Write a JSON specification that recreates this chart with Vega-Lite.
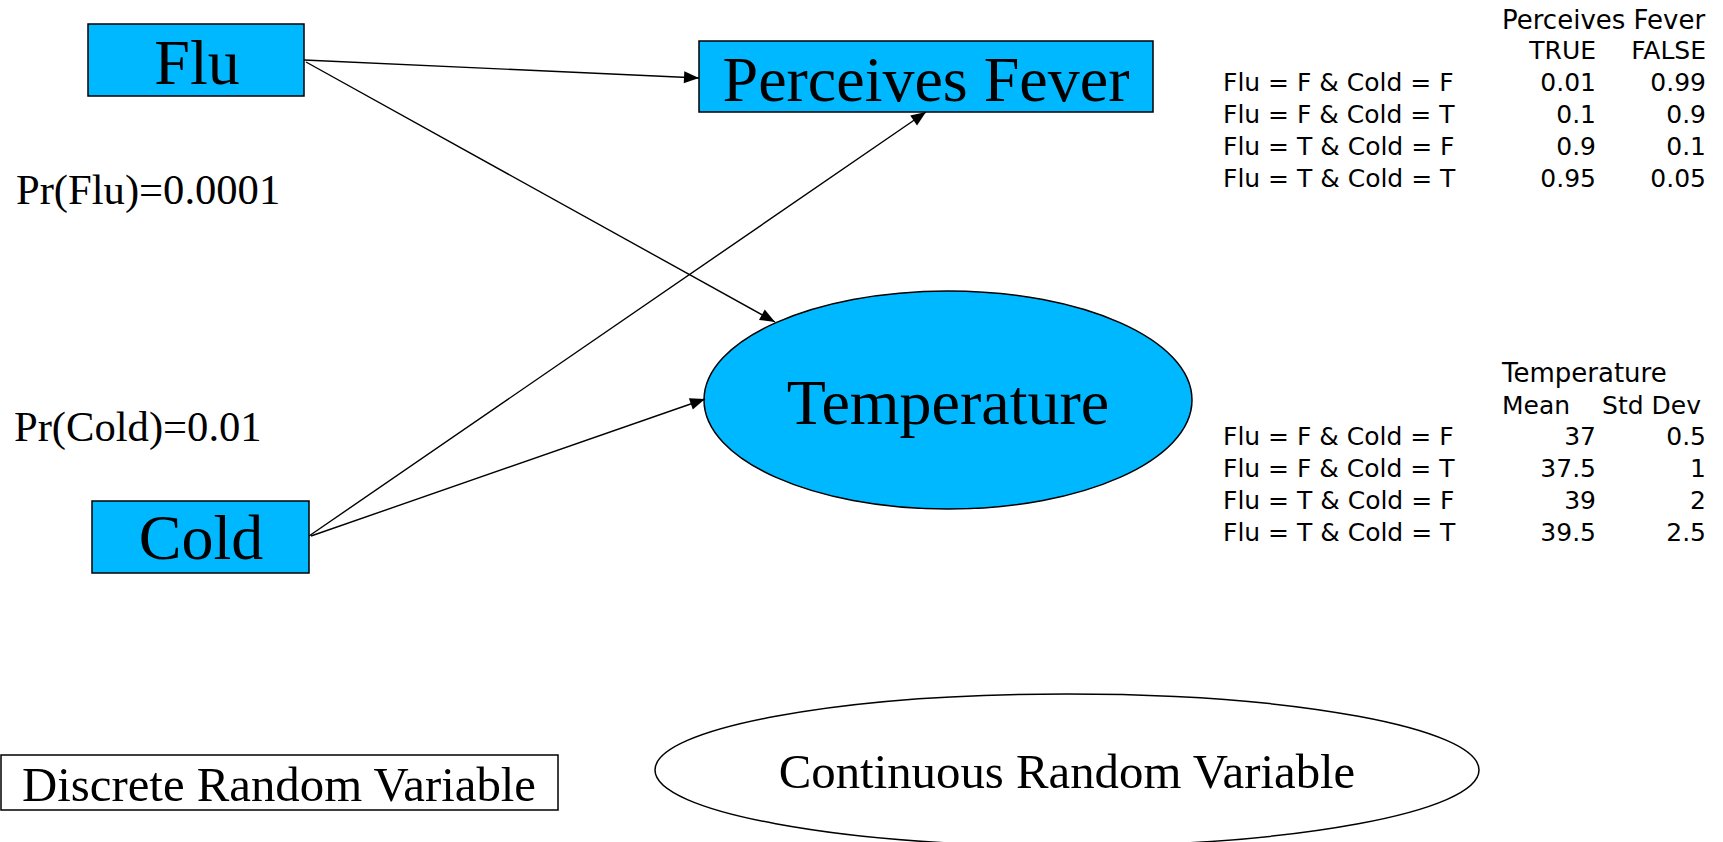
{
  "$schema": "https://vega.github.io/schema/vega-lite/v6.json",
  "width": 1723,
  "height": 842,
  "padding": 0,
  "autosize": {"type": "none"},
  "background": "white",
  "config": {"view": {"stroke": null}},
  "datasets": {
    "boxes": [
      {"name": "Flu", "x": 88, "x2": 304, "y": 24, "y2": 96, "kind": "node"},
      {"name": "Perceives Fever", "x": 699, "x2": 1153, "y": 41, "y2": 112, "kind": "node"},
      {"name": "Cold", "x": 92, "x2": 309, "y": 501, "y2": 573, "kind": "node"},
      {"name": "Discrete Random Variable", "x": 1, "x2": 558, "y": 755, "y2": 810, "kind": "legend"}
    ],
    "ellipses": [
      {"name": "Temperature", "x": 948, "y": 400},
      {"name": "Continuous Random Variable", "x": 1067, "y": 770}
    ],
    "arrows": [
      {"from": "Flu", "to": "Perceives Fever", "x": 304, "y": 60, "x2": 699, "y2": 78, "angle": 2.6},
      {"from": "Flu", "to": "Temperature", "x": 306, "y": 62, "x2": 775, "y2": 322, "angle": 29.0},
      {"from": "Cold", "to": "Perceives Fever", "x": 309, "y": 536, "x2": 926, "y2": 112, "angle": 325.5},
      {"from": "Cold", "to": "Temperature", "x": 311, "y": 536, "x2": 705, "y2": 399, "angle": 340.8}
    ],
    "labels": [
      {"text": "Flu", "x": 197, "y": 84, "kind": "node"},
      {"text": "Perceives Fever", "x": 926, "y": 101, "kind": "node"},
      {"text": "Temperature", "x": 948, "y": 424, "kind": "node"},
      {"text": "Cold", "x": 201, "y": 559, "kind": "node"},
      {"text": "Pr(Flu)=0.0001", "x": 16, "y": 204, "kind": "prior"},
      {"text": "Pr(Cold)=0.01", "x": 14, "y": 441, "kind": "prior"},
      {"text": "Discrete Random Variable", "x": 279, "y": 801, "kind": "legend"},
      {"text": "Continuous Random Variable", "x": 1067, "y": 788, "kind": "legend"}
    ],
    "headers": [
      {"text": "Perceives Fever", "x": 1502, "y": 29, "role": "title"},
      {"text": "TRUE", "x": 1596, "y": 59, "role": "column-end"},
      {"text": "FALSE", "x": 1706, "y": 59, "role": "column-end"},
      {"text": "Temperature", "x": 1502, "y": 382, "role": "title"},
      {"text": "Mean", "x": 1502, "y": 414, "role": "column-start"},
      {"text": "Std Dev", "x": 1701, "y": 414, "role": "column-end"}
    ],
    "cpt": [
      {"table": "Perceives Fever", "condition": "Flu = F & Cold = F", "c1": "0.01", "c2": "0.99", "y": 91},
      {"table": "Perceives Fever", "condition": "Flu = F & Cold = T", "c1": "0.1", "c2": "0.9", "y": 123},
      {"table": "Perceives Fever", "condition": "Flu = T & Cold = F", "c1": "0.9", "c2": "0.1", "y": 155},
      {"table": "Perceives Fever", "condition": "Flu = T & Cold = T", "c1": "0.95", "c2": "0.05", "y": 187},
      {"table": "Temperature", "condition": "Flu = F & Cold = F", "c1": "37", "c2": "0.5", "y": 445},
      {"table": "Temperature", "condition": "Flu = F & Cold = T", "c1": "37.5", "c2": "1", "y": 477},
      {"table": "Temperature", "condition": "Flu = T & Cold = F", "c1": "39", "c2": "2", "y": 509},
      {"table": "Temperature", "condition": "Flu = T & Cold = T", "c1": "39.5", "c2": "2.5", "y": 541}
    ]
  },
  "layer": [
    {
      "data": {"name": "boxes"},
      "mark": {"type": "rect", "stroke": "black", "strokeWidth": 1.5},
      "encoding": {
        "x": {"field": "x", "type": "quantitative", "scale": {"domain": [0, 1723], "nice": false, "zero": false}, "axis": null},
        "x2": {"field": "x2"},
        "y": {"field": "y", "type": "quantitative", "scale": {"domain": [0, 842], "nice": false, "zero": false, "reverse": true}, "axis": null},
        "y2": {"field": "y2"},
        "fill": {"field": "kind", "type": "nominal", "scale": {"domain": ["node", "legend"], "range": ["#00b8ff", "#ffffff"]}, "legend": null}
      }
    },
    {
      "data": {"name": "ellipses"},
      "transform": [{"filter": "datum.name === 'Temperature'"}],
      "mark": {"type": "point", "shape": "M -244 0 A 244 109 0 1 0 244 0 A 244 109 0 1 0 -244 0 Z", "size": 4, "filled": true, "fill": "#00b8ff", "stroke": "black", "strokeWidth": 1.5, "opacity": 1},
      "encoding": {
        "x": {"field": "x", "type": "quantitative", "scale": {"domain": [0, 1723], "nice": false, "zero": false}, "axis": null},
        "y": {"field": "y", "type": "quantitative", "scale": {"domain": [0, 842], "nice": false, "zero": false, "reverse": true}, "axis": null}
      }
    },
    {
      "data": {"name": "ellipses"},
      "transform": [{"filter": "datum.name === 'Continuous Random Variable'"}],
      "mark": {"type": "point", "shape": "M -412 0 A 412 76 0 1 0 412 0 A 412 76 0 1 0 -412 0 Z", "size": 4, "filled": true, "fill": "#ffffff", "stroke": "black", "strokeWidth": 1.5, "opacity": 1},
      "encoding": {
        "x": {"field": "x", "type": "quantitative", "scale": {"domain": [0, 1723], "nice": false, "zero": false}, "axis": null},
        "y": {"field": "y", "type": "quantitative", "scale": {"domain": [0, 842], "nice": false, "zero": false, "reverse": true}, "axis": null}
      }
    },
    {
      "data": {"name": "arrows"},
      "mark": {"type": "rule", "stroke": "black", "strokeWidth": 1.4},
      "encoding": {
        "x": {"field": "x", "type": "quantitative", "scale": {"domain": [0, 1723], "nice": false, "zero": false}, "axis": null},
        "y": {"field": "y", "type": "quantitative", "scale": {"domain": [0, 842], "nice": false, "zero": false, "reverse": true}, "axis": null},
        "x2": {"field": "x2"},
        "y2": {"field": "y2"}
      }
    },
    {
      "data": {"name": "arrows"},
      "mark": {"type": "point", "shape": "M 0 0 L -15 -6 L -15 6 Z", "size": 4, "filled": true, "fill": "black", "strokeWidth": 0, "opacity": 1},
      "encoding": {
        "x": {"field": "x2", "type": "quantitative", "scale": {"domain": [0, 1723], "nice": false, "zero": false}, "axis": null},
        "y": {"field": "y2", "type": "quantitative", "scale": {"domain": [0, 842], "nice": false, "zero": false, "reverse": true}, "axis": null},
        "angle": {"field": "angle", "type": "quantitative", "scale": null}
      }
    },
    {
      "data": {"name": "labels"},
      "transform": [{"filter": "datum.kind === 'node'"}],
      "mark": {"type": "text", "font": "Liberation Serif", "fontSize": 64, "align": "center", "baseline": "alphabetic", "color": "black"},
      "encoding": {
        "x": {"field": "x", "type": "quantitative", "scale": {"domain": [0, 1723], "nice": false, "zero": false}, "axis": null},
        "y": {"field": "y", "type": "quantitative", "scale": {"domain": [0, 842], "nice": false, "zero": false, "reverse": true}, "axis": null},
        "text": {"field": "text"}
      }
    },
    {
      "data": {"name": "labels"},
      "transform": [{"filter": "datum.kind === 'prior'"}],
      "mark": {"type": "text", "font": "Liberation Serif", "fontSize": 42.6, "align": "left", "baseline": "alphabetic", "color": "black"},
      "encoding": {
        "x": {"field": "x", "type": "quantitative", "scale": {"domain": [0, 1723], "nice": false, "zero": false}, "axis": null},
        "y": {"field": "y", "type": "quantitative", "scale": {"domain": [0, 842], "nice": false, "zero": false, "reverse": true}, "axis": null},
        "text": {"field": "text"}
      }
    },
    {
      "data": {"name": "labels"},
      "transform": [{"filter": "datum.kind === 'legend'"}],
      "mark": {"type": "text", "font": "Liberation Serif", "fontSize": 48.8, "align": "center", "baseline": "alphabetic", "color": "black"},
      "encoding": {
        "x": {"field": "x", "type": "quantitative", "scale": {"domain": [0, 1723], "nice": false, "zero": false}, "axis": null},
        "y": {"field": "y", "type": "quantitative", "scale": {"domain": [0, 842], "nice": false, "zero": false, "reverse": true}, "axis": null},
        "text": {"field": "text"}
      }
    },
    {
      "data": {"name": "headers"},
      "transform": [{"filter": "datum.role === 'title'"}],
      "mark": {"type": "text", "font": "DejaVu Sans", "fontSize": 26, "align": "left", "baseline": "alphabetic", "color": "black"},
      "encoding": {
        "x": {"field": "x", "type": "quantitative", "scale": {"domain": [0, 1723], "nice": false, "zero": false}, "axis": null},
        "y": {"field": "y", "type": "quantitative", "scale": {"domain": [0, 842], "nice": false, "zero": false, "reverse": true}, "axis": null},
        "text": {"field": "text"}
      }
    },
    {
      "data": {"name": "headers"},
      "transform": [{"filter": "datum.role === 'column-start'"}],
      "mark": {"type": "text", "font": "DejaVu Sans", "fontSize": 25, "align": "left", "baseline": "alphabetic", "color": "black"},
      "encoding": {
        "x": {"field": "x", "type": "quantitative", "scale": {"domain": [0, 1723], "nice": false, "zero": false}, "axis": null},
        "y": {"field": "y", "type": "quantitative", "scale": {"domain": [0, 842], "nice": false, "zero": false, "reverse": true}, "axis": null},
        "text": {"field": "text"}
      }
    },
    {
      "data": {"name": "headers"},
      "transform": [{"filter": "datum.role === 'column-end'"}],
      "mark": {"type": "text", "font": "DejaVu Sans", "fontSize": 25, "align": "right", "baseline": "alphabetic", "color": "black"},
      "encoding": {
        "x": {"field": "x", "type": "quantitative", "scale": {"domain": [0, 1723], "nice": false, "zero": false}, "axis": null},
        "y": {"field": "y", "type": "quantitative", "scale": {"domain": [0, 842], "nice": false, "zero": false, "reverse": true}, "axis": null},
        "text": {"field": "text"}
      }
    },
    {
      "data": {"name": "cpt"},
      "mark": {"type": "text", "font": "DejaVu Sans", "fontSize": 25, "align": "left", "baseline": "alphabetic", "color": "black"},
      "encoding": {
        "x": {"datum": 1223, "type": "quantitative", "scale": {"domain": [0, 1723], "nice": false, "zero": false}, "axis": null},
        "y": {"field": "y", "type": "quantitative", "scale": {"domain": [0, 842], "nice": false, "zero": false, "reverse": true}, "axis": null},
        "text": {"field": "condition"}
      }
    },
    {
      "data": {"name": "cpt"},
      "mark": {"type": "text", "font": "DejaVu Sans", "fontSize": 25, "align": "right", "baseline": "alphabetic", "color": "black"},
      "encoding": {
        "x": {"datum": 1596, "type": "quantitative", "scale": {"domain": [0, 1723], "nice": false, "zero": false}, "axis": null},
        "y": {"field": "y", "type": "quantitative", "scale": {"domain": [0, 842], "nice": false, "zero": false, "reverse": true}, "axis": null},
        "text": {"field": "c1"}
      }
    },
    {
      "data": {"name": "cpt"},
      "mark": {"type": "text", "font": "DejaVu Sans", "fontSize": 25, "align": "right", "baseline": "alphabetic", "color": "black"},
      "encoding": {
        "x": {"datum": 1706, "type": "quantitative", "scale": {"domain": [0, 1723], "nice": false, "zero": false}, "axis": null},
        "y": {"field": "y", "type": "quantitative", "scale": {"domain": [0, 842], "nice": false, "zero": false, "reverse": true}, "axis": null},
        "text": {"field": "c2"}
      }
    }
  ]
}
